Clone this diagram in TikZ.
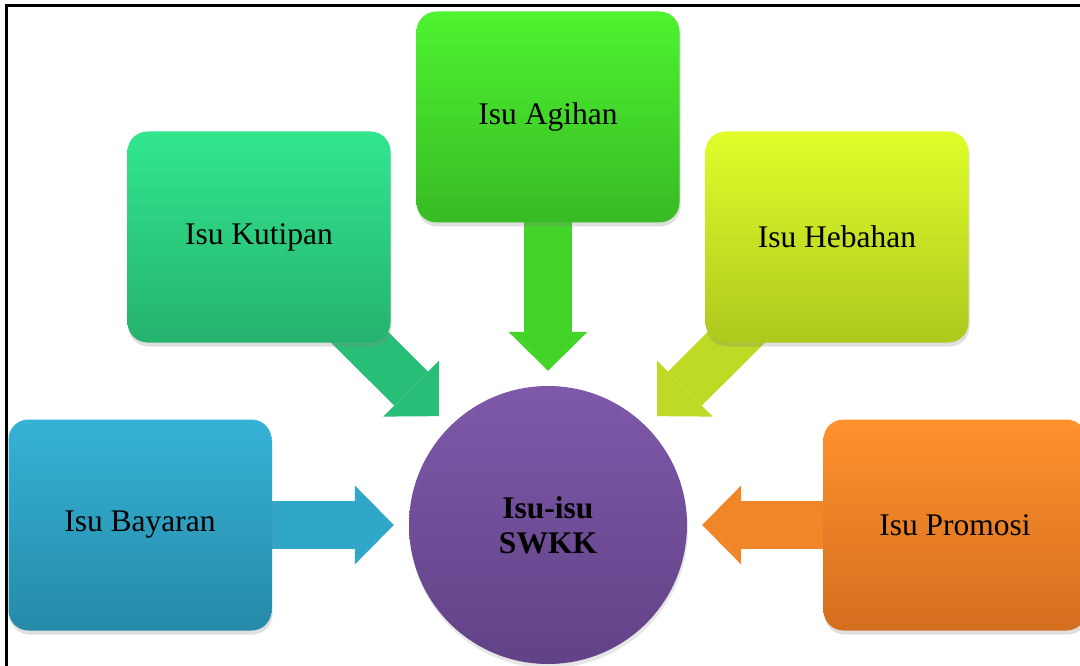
\documentclass[tikz,border=0pt]{standalone}
\usepackage{fontspec}
\setmainfont{Liberation Serif}
\usepackage{tikz}
\usetikzlibrary{arrows.meta, shadows, backgrounds}
\definecolor{agihantop}{RGB}{78, 243, 48}
\definecolor{agihanbot}{RGB}{56, 186, 36}
\definecolor{agihanarrow}{RGB}{66, 212, 40}
\definecolor{kutipantop}{RGB}{50, 230, 142}
\definecolor{kutipanbot}{RGB}{37, 178, 110}
\definecolor{kutipanarrow}{RGB}{40, 190, 120}
\definecolor{hebahantop}{RGB}{224, 253, 42}
\definecolor{hebahanbot}{RGB}{174, 200, 30}
\definecolor{hebahanarrow}{RGB}{190, 218, 36}
\definecolor{bayarantop}{RGB}{53, 178, 214}
\definecolor{bayaranbot}{RGB}{38, 138, 168}
\definecolor{bayaranarrow}{RGB}{48, 166, 200}
\definecolor{promositop}{RGB}{255, 146, 45}
\definecolor{promosibot}{RGB}{212, 110, 32}
\definecolor{promosiarrow}{RGB}{240, 134, 40}
\definecolor{swkktop}{RGB}{126, 89, 170}
\definecolor{swkkbot}{RGB}{98, 66, 134}

\begin{document}
\begin{tikzpicture}[
    x=1pt, y=-1pt,
    issue/.style={rounded corners=20pt, minimum width=263pt, minimum height=211pt, font=\fontsize{31.5}{36}\selectfont, drop shadow={shadow xshift=1pt, shadow yshift=-4pt, opacity=0.25}},
    hub/.style={circle, minimum size=278pt, inner sep=0pt, align=center, font=\fontsize{31.5}{35}\selectfont\bfseries, drop shadow={shadow xshift=1pt, shadow yshift=-4pt, opacity=0.2}},
    blockarrow/.style={line width=48pt, -{Triangle[length=39pt, width=79pt, line width=0pt]}, shorten >=15pt}
]
    \useasboundingbox (0,0) rectangle (1080,666);

    % Centre
    \node[hub, top color=swkktop, bottom color=swkkbot] (swkk) at (548,525) {Isu-isu\\SWKK};

    % Issues
    \node[issue, top color=agihantop, bottom color=agihanbot] (agihan) at (548,117) {Isu Agihan};
    \node[issue, top color=kutipantop, bottom color=kutipanbot] (kutipan) at (259,237) {Isu Kutipan};
    \node[issue, top color=hebahantop, bottom color=hebahanbot] (hebahan) at (837,237) {Isu Hebahan};
    \node[issue, top color=bayarantop, bottom color=bayaranbot] (bayaran) at (140,525) {Isu Bayaran};
    \node[issue, top color=promositop, bottom color=promosibot] (promosi) at (955,525) {Isu Promosi};

    % Connections
    \begin{scope}[on background layer]
        \draw[blockarrow, agihanarrow] (agihan.center) -- (swkk);
        \draw[blockarrow, kutipanarrow] (kutipan.center) -- (swkk);
        \draw[blockarrow, hebahanarrow] (hebahan.center) -- (swkk);
        \draw[blockarrow, bayaranarrow] (bayaran.center) -- (swkk);
        \draw[blockarrow, promosiarrow] (promosi.center) -- (swkk);
    \end{scope}

    % Frame
    \draw[line width=2.2pt] (6.5,666) -- (6.5,5.5) -- (1080,5.5);
\end{tikzpicture}
\end{document}
